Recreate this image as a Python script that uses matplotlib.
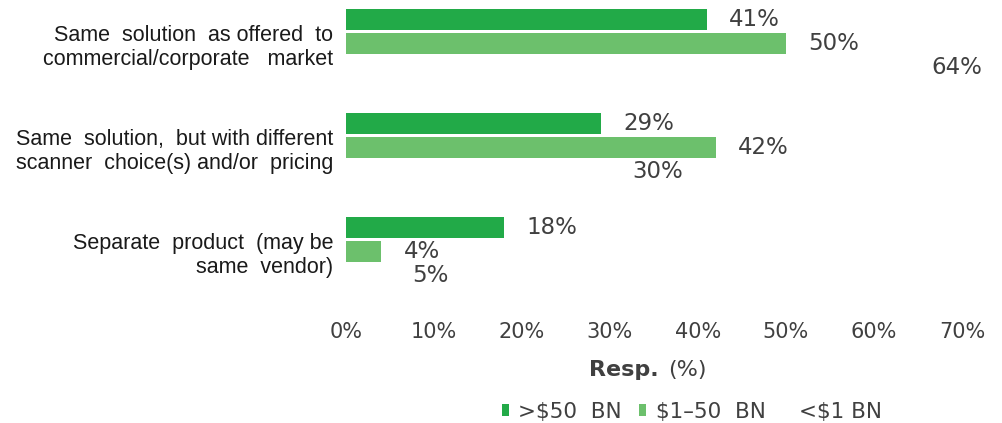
import numpy as np
import matplotlib
matplotlib.use('Agg')
import matplotlib.pyplot as plt

# data
categories = [
    "Same  solution  as offered  to\ncommercial/corporate   market",
    "Same  solution,  but with different\nscanner  choice(s) and/or  pricing",
    "Separate  product  (may be\nsame  vendor)",
]
series_names = [">$50  BN", "$1\u201350  BN", "<$1 BN"]
over_50bn = [41, 29, 18]
from_1_to_50bn = [50, 42, 4]
under_1bn = [64, 30, 5]
x_ticks = [0, 10, 20, 30, 40, 50, 60, 70]
x_tick_labels = ["0%", "10%", "20%", "30%", "40%", "50%", "60%", "70%"]

colors = ["#22aa48", "#6cc06c", "#ffffff"]
text_gray = "#404040"

W, H = 1002, 423
fig = plt.figure(figsize=(W / 100, H / 100), dpi=100)

# axes placed in pixel terms
ax_left, ax_right = 346, 962
ax_top, ax_bottom = 0, 305
ax = fig.add_axes([ax_left / W, 1 - ax_bottom / H,
                   (ax_right - ax_left) / W, (ax_bottom - ax_top) / H])

y = np.arange(len(categories))
step = 0.226
bar_h = 0.202
all_series = [over_50bn, from_1_to_50bn, under_1bn]

for i, vals in enumerate(all_series):
    pos = y + (i - 1) * step
    ax.barh(pos, vals, height=bar_h, color=colors[i], label=series_names[i],
            edgecolor="none")
    for p, v in zip(pos, vals):
        ax.annotate(f"{v}%", xy=(v, p), xytext=(16, 0), textcoords="offset points",
                    ha="left", va="center", fontsize=16.5, color=text_gray,
                    family="DejaVu Sans")

ax.set_xlim(0, 70)
ax.set_ylim((ax_bottom - 43.5) / 104, -43.5 / 104)
ax.set_xticks(x_ticks)
ax.set_xticklabels(x_tick_labels, fontsize=15, color=text_gray, family="DejaVu Sans")
ax.set_yticks(y)
ax.set_yticklabels(categories, fontsize=15.5, color="#1a1a1a",
                   family="Liberation Sans", ha="right")
ax.tick_params(axis="x", length=0, pad=12)
ax.tick_params(axis="y", length=0, pad=9)
for s in ax.spines.values():
    s.set_visible(False)

# axis title with bold part
fig.text(659 / W, 1 - 370 / H, "Resp.", ha="right", va="center", fontsize=16,
         fontweight="bold", color=text_gray, family="DejaVu Sans")
fig.text(668 / W, 1 - 370 / H, "(%)", ha="left", va="center", fontsize=16,
         color=text_gray, family="DejaVu Sans")

handles, labels = ax.get_legend_handles_labels()
fig.legend(handles, labels, loc="center", bbox_to_anchor=(692 / W, 1 - 412 / H),
           ncol=3, frameon=False, handlelength=0.32,
           handleheight=0.5, handletextpad=0.45, columnspacing=0.8,
           labelcolor=text_gray, prop={"family": "DejaVu Sans", "size": 15.5})

fig.savefig("out.png", dpi=100)
